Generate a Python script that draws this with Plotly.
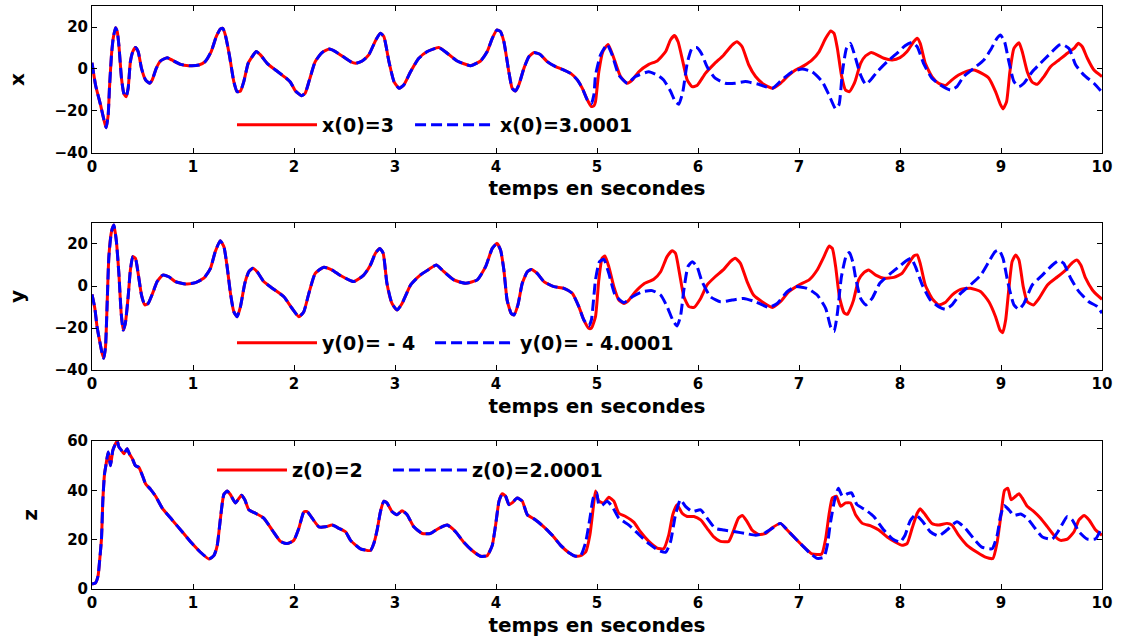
import plotly.graph_objects as go

# ---------------- data ----------------
# x(t): common part (both initial conditions coincide)
X_T_COMMON = [0, 0.035, 0.084, 0.117, 0.14, 0.16, 0.173, 0.193, 0.21, 0.233,
              0.25, 0.266, 0.292, 0.315, 0.338, 0.358, 0.38, 0.404, 0.43, 0.457,
              0.49, 0.53, 0.57, 0.596, 0.636, 0.678, 0.744, 0.79, 0.876, 0.958,
              1.058, 1.12, 1.18, 1.23, 1.27, 1.295, 1.32, 1.36, 1.404, 1.437,
              1.47, 1.503, 1.546, 1.586, 1.625, 1.668, 1.734, 1.817, 1.916, 1.965,
              2.015, 2.074, 2.11, 2.153, 2.21, 2.28, 2.35, 2.41, 2.46, 2.51,
              2.56, 2.61, 2.675, 2.74, 2.81, 2.856, 2.89, 2.94, 2.99, 3.04,
              3.087, 3.154, 3.236, 3.32, 3.434, 3.517, 3.616, 3.748, 3.847, 3.913,
              3.963, 4.01, 4.045, 4.078, 4.127, 4.16, 4.193, 4.226, 4.276, 4.326,
              4.375, 4.435, 4.507, 4.59, 4.673, 4.74, 4.805, 4.855, 4.905]
X_V_COMMON = [3, -7.6, -17, -24, -28, -22, -9, 6.7, 14.6, 19.7,
              17.8, 11.4, -4.4, -11.6, -13.2, -9.2, 3.5, 8.3, 10.2, 8.3,
              0.3, -5.2, -6.8, -5.2, 0.3, 3.8, 5.4, 4.3, 2.2, 1.6,
              1.9, 3.5, 8.3, 15.4, 19, 19.4, 16.2, 6.7, -6, -10.8,
              -10.5, -6, 2.7, 5.9, 8.3, 6.7, 2.7, -0.5, -4.1, -6.3,
              -10.5, -12.7, -11.6, -5.2, 3.5, 7.9, 9.5, 8.3, 6.7, 5.1,
              3.5, 2.7, 3.8, 6.7, 13.8, 17, 15.4, 3.5, -6, -9.2,
              -7.6, -1.3, 5.1, 8.3, 10.2, 7.5, 3.8, 1.6, 3.8, 8.3,
              14.6, 18.6, 17.8, 13, -1.3, -9.2, -10.5, -7.6, 0.3, 5.9,
              7.8, 7, 3.5, 1.1, -0.5, -2.1, -5.2, -9.2, -14.8]
X_T_RED = [4.944, 4.97, 4.985, 5.018, 5.058, 5.11, 5.167, 5.233, 5.3, 5.35,
           5.414, 5.513, 5.596, 5.68, 5.727, 5.767, 5.803, 5.85, 5.893, 5.94,
           5.99, 6.073, 6.156, 6.255, 6.337, 6.387, 6.437, 6.503, 6.57, 6.65,
           6.735, 6.817, 6.9, 6.966, 7.05, 7.13, 7.2, 7.264, 7.314, 7.347,
           7.38, 7.42, 7.46, 7.5, 7.54, 7.56, 7.61, 7.66, 7.715, 7.774,
           7.84, 7.923, 8.0, 8.07, 8.135, 8.17, 8.2, 8.25, 8.316, 8.382,
           8.448, 8.515, 8.58, 8.664, 8.73, 8.81, 8.88, 8.946, 8.995, 9.02,
           9.055, 9.088, 9.128, 9.178, 9.21, 9.26, 9.31, 9.36, 9.425, 9.49,
           9.574, 9.657, 9.723, 9.766, 9.805, 9.855, 9.92, 10.0]
X_V_RED = [-17.9, -17.5, -15.6, -1.3, 8.3, 11.7, 5.1, -3.6, -6.8, -5.2,
           -1.3, 2.2, 3.8, 8.3, 13.8, 15.9, 13, 3.5, -5.2, -8.4,
           -7.9, -2.1, 2.2, 6.7, 11.4, 13, 10.6, 1.9, -3.6, -7.3,
           -9.2, -6.8, -2.9, -0.5, 1.6, 4.3, 8.3, 14.6, 18.1, 17,
           9.8, -2.9, -10, -10.8, -7.6, -5.2, 2.7, 6.3, 7.8, 6.7,
           5.1, 4.3, 5.4, 8.3, 13, 14.6, 12.2, 2.7, -3.6, -6.8,
           -7.9, -5.2, -2.9, -1, -0.5, -2.1, -4.4, -10.8, -17, -19,
           -15.6, -1.3, 9.8, 12.5, 8.3, -1.3, -6.3, -7.3, -3.6, 1.1,
           4.3, 7.5, 9.8, 12.2, 10.6, 5.1, -0.5, -3.6]
X_T_BLUE = [4.944, 4.97, 4.985, 5.035, 5.1, 5.15, 5.216, 5.3, 5.38, 5.513,
            5.596, 5.66, 5.727, 5.776, 5.81, 5.85, 5.893, 5.94, 5.99, 6.033,
            6.09, 6.17, 6.27, 6.37, 6.47, 6.6, 6.735, 6.83, 6.933, 7.03,
            7.13, 7.23, 7.297, 7.363, 7.396, 7.43, 7.47, 7.51, 7.56, 7.61,
            7.66, 7.71, 7.774, 7.873, 7.972, 8.05, 8.12, 8.17, 8.233, 8.316,
            8.4, 8.5, 8.564, 8.63, 8.73, 8.83, 8.896, 8.96, 8.995, 9.035,
            9.078, 9.128, 9.178, 9.227, 9.31, 9.39, 9.49, 9.574, 9.607, 9.673,
            9.74, 9.822, 9.92, 10.0]
X_V_BLUE = [-16.5, -12, -3, 6.7, 11.7, 6.7, -2.9, -6.8, -3.6, -1.3,
            -2.9, -5.2, -10.5, -15.6, -16.8, -10.8, 2.7, 9.8, 10.2, 7.5,
            1.1, -4.4, -6.8, -6.8, -6, -7.3, -9.2, -5.2, -1.3, 0,
            -1.3, -6, -12.4, -19, -17, -1.3, 9.8, 12.2, 5.1, -2.9,
            -7.3, -5.2, -1.3, 3.5, 7.5, 11.1, 12.7, 10.6, 2.7, -4.4,
            -7.6, -10, -8.4, -3.6, 0.3, 4.3, 9, 14.6, 16.2, 13,
            3.5, -6, -8.4, -6.8, -1.3, 2.7, 7.5, 11.4, 11.7, 9.8,
            1.9, -2.9, -6.8, -11.1]

# y(t)
Y_T_COMMON = [0, 0.028, 0.05, 0.074, 0.1, 0.117, 0.134, 0.15, 0.167, 0.193,
              0.216, 0.24, 0.266, 0.289, 0.309, 0.33, 0.358, 0.38, 0.404, 0.43,
              0.457, 0.49, 0.523, 0.556, 0.6, 0.645, 0.7, 0.76, 0.826, 0.926,
              1.025, 1.107, 1.173, 1.22, 1.27, 1.306, 1.338, 1.371, 1.404, 1.437,
              1.47, 1.513, 1.553, 1.592, 1.635, 1.7, 1.786, 1.9, 1.98, 2.048,
              2.097, 2.147, 2.21, 2.296, 2.378, 2.46, 2.592, 2.69, 2.757, 2.806,
              2.85, 2.883, 2.92, 2.97, 3.02, 3.07, 3.155, 3.25, 3.334, 3.41,
              3.484, 3.583, 3.7, 3.814, 3.897, 3.963, 4.01, 4.045, 4.078, 4.11,
              4.15, 4.177, 4.217, 4.26, 4.31, 4.35, 4.408, 4.474, 4.573, 4.673,
              4.755, 4.82, 4.87]
Y_V_COMMON = [-4, -10.6, -19.4, -25.7, -32, -34.4, -28.9, -8.3, 14, 25.9,
              29, 21.9, 6, -13, -21, -17.8, -5.1, 7.6, 14, 13.2,
              6, -4.3, -9, -8.3, -3.5, 2.1, 5.2, 4.4, 2.1, 1,
              1.6, 3.7, 8.4, 16.3, 21.6, 18.7, 9.2, -3.5, -12.2, -14.6,
              -9.8, 1.3, 6.8, 8.4, 6.8, 2.1, -1.1, -5.1, -10.6, -14.6,
              -12.2, -3.5, 6, 8.9, 7.6, 5, 2.1, 5.2, 10, 15.6,
              17.9, 15.6, 1.3, -8.3, -11.4, -8.3, 0.5, 5.2, 7.9, 10,
              6.8, 2.9, 1.3, 2.9, 9.2, 17.9, 20.3, 17.1, 7.6, -6.7,
              -13, -13.8, -9, 1.3, 6.8, 7.9, 6, 2.1, -0.3, -1.1,
              -3.5, -9.8, -16.2]
Y_T_RED = [4.92, 4.945, 4.985, 5.018, 5.05, 5.078, 5.117, 5.167, 5.216, 5.266,
           5.316, 5.38, 5.463, 5.562, 5.63, 5.694, 5.744, 5.777, 5.817, 5.86,
           5.91, 5.96, 6.026, 6.09, 6.17, 6.255, 6.32, 6.37, 6.42, 6.486,
           6.55, 6.634, 6.735, 6.816, 6.9, 6.999, 7.1, 7.18, 7.247, 7.297,
           7.33, 7.363, 7.4, 7.446, 7.48, 7.51, 7.54, 7.59, 7.64, 7.69,
           7.76, 7.84, 7.94, 8.02, 8.087, 8.137, 8.17, 8.2, 8.25, 8.316,
           8.382, 8.448, 8.515, 8.6, 8.697, 8.8, 8.88, 8.946, 8.99, 9.017,
           9.046, 9.08, 9.11, 9.145, 9.178, 9.22, 9.26, 9.32, 9.376, 9.46,
           9.56, 9.64, 9.707, 9.75, 9.79, 9.838, 9.905, 9.97, 10.0]
Y_V_RED = [-20.2, -20, -14.6, 2.9, 13.2, 14.3, 9.2, -0.3, -6.7, -8.3,
           -6.7, -2.7, 1, 3.2, 6.8, 14, 16.8, 15.6, 6, -5.1,
           -9.8, -10.2, -5.9, 0.5, 4.4, 7.9, 11.6, 13.2, 10.8, 2.1,
           -4.3, -7.5, -10.2, -7.5, -2.7, 0.5, 2.9, 7.6, 14, 19,
           17.9, 9.2, -5.1, -12.7, -13.5, -10.6, -6.7, 2.9, 6.3, 7.6,
           5.2, 3.7, 4.1, 6, 10.8, 14.3, 14.8, 10.8, 0.5, -5.9,
           -9, -7.9, -4.3, -1.6, -1.1, -2.7, -7.5, -14.6, -21, -22.2,
           -16.2, -0.3, 11.6, 14.8, 12.4, -0.3, -7.5, -9, -5.9, 0.5,
           4.4, 7.6, 11.1, 12.4, 10, 3.7, -1.9, -5.1, -6.3]
Y_T_BLUE = [4.92, 4.945, 4.985, 5.025, 5.068, 5.117, 5.18, 5.266, 5.35, 5.45,
            5.546, 5.63, 5.694, 5.75, 5.793, 5.826, 5.86, 5.9, 5.943, 5.99,
            6.04, 6.123, 6.222, 6.337, 6.453, 6.57, 6.7, 6.784, 6.883, 6.966,
            7.08, 7.18, 7.264, 7.313, 7.347, 7.38, 7.42, 7.47, 7.5, 7.535,
            7.56, 7.61, 7.66, 7.724, 7.8, 7.907, 7.99, 8.05, 8.11, 8.153,
            8.22, 8.3, 8.382, 8.448, 8.515, 8.6, 8.697, 8.8, 8.88, 8.94,
            8.98, 9.02, 9.07, 9.128, 9.178, 9.227, 9.31, 9.41, 9.51, 9.574,
            9.62, 9.69, 9.772, 9.87, 9.953, 10.0]
Y_V_BLUE = [-19, -16, 2.9, 11.6, 12.7, 6, -4.3, -7.9, -5.1, -2.7,
            -2.2, -4.3, -9.8, -16.2, -19, -14.6, -1.9, 9.2, 11.6, 9.2,
            2.1, -5.1, -7.5, -6.7, -5.9, -7.5, -10.2, -8.3, -2.7, -0.3,
            -1.1, -4.3, -10.6, -19.4, -21.7, -13, 4.4, 14.8, 15.9, 11,
            4, -5.9, -9, -5.9, 1.3, 6, 9.2, 11.6, 13.2, 9.2,
            0.5, -6.7, -9.8, -11.1, -9, -3.5, 0.5, 5.2, 11.6, 16.3,
            17.1, 13.2, 1.3, -9, -11.1, -8.3, 0.5, 5.2, 10, 12.1,
            10.8, 3.7, -2.7, -7.5, -9.8, -13]

# z(t)
Z_T_COMMON = [0, 0.035, 0.06, 0.074, 0.094, 0.107, 0.124, 0.14, 0.16, 0.183,
              0.206, 0.233, 0.25, 0.266, 0.292, 0.315, 0.348, 0.37, 0.4, 0.43,
              0.464, 0.5, 0.53, 0.58, 0.63, 0.695, 0.794, 0.893, 0.992, 1.074,
              1.157, 1.206, 1.24, 1.272, 1.305, 1.338, 1.37, 1.42, 1.48, 1.513,
              1.553, 1.619, 1.7, 1.784, 1.866, 1.932, 1.998, 2.048, 2.097, 2.13,
              2.18, 2.246, 2.312, 2.378, 2.444, 2.51, 2.56, 2.658, 2.757, 2.79,
              2.823, 2.856, 2.89, 2.92, 2.97, 3.02, 3.07, 3.12, 3.186, 3.27,
              3.35, 3.434, 3.517, 3.6, 3.68, 3.764, 3.847, 3.913, 3.963, 3.996,
              4.03, 4.062, 4.095, 4.128, 4.16, 4.21, 4.26, 4.31, 4.392, 4.474,
              4.557, 4.64, 4.722, 4.788, 4.838]
Z_V_COMMON = [2, 2.5, 5.3, 10.8, 20.4, 35.6, 46.6, 50.7, 55.5, 50,
              56.2, 58.9, 60, 57.6, 56.2, 54.8, 56.9, 54.8, 52.8, 50,
              49.3, 45.9, 42.7, 40.4, 37.6, 32.8, 28, 23.2, 18.4, 14.9,
              12.2, 13.5, 17.7, 28.7, 38.3, 39.7, 38.3, 34.9, 38, 36.2,
              32.1, 30.7, 28.7, 23.9, 19.3, 18.4, 19.7, 24.6, 31.2, 31.4,
              28.7, 25.2, 25.2, 25.9, 24.6, 23.2, 19.7, 16.3, 15.6, 18.4,
              23.9, 31.4, 35.6, 34.9, 31.4, 30.1, 31.7, 30.1, 25.2, 22.5,
              22.5, 24.6, 25.9, 23.2, 19, 15.6, 13.3, 13.5, 17.7, 25.9,
              35.6, 38.6, 37.6, 34.2, 34.9, 36.9, 35.6, 30.1, 28, 25.2,
              21.8, 17.7, 14.7, 13.3, 13.5]
Z_T_RED = [4.888, 4.93, 4.963, 4.985, 5.018, 5.068, 5.117, 5.167, 5.216, 5.283,
           5.366, 5.43, 5.513, 5.596, 5.66, 5.71, 5.75, 5.793, 5.843, 5.893,
           5.96, 6.026, 6.09, 6.156, 6.222, 6.304, 6.354, 6.4, 6.44, 6.486,
           6.535, 6.6, 6.67, 6.735, 6.816, 6.883, 6.966, 7.05, 7.13, 7.224,
           7.264, 7.297, 7.33, 7.37, 7.413, 7.462, 7.51, 7.56, 7.627, 7.71,
           7.79, 7.873, 7.956, 8.02, 8.07, 8.12, 8.17, 8.2, 8.25, 8.316,
           8.382, 8.465, 8.515, 8.58, 8.664, 8.763, 8.846, 8.92, 8.962, 9.0,
           9.035, 9.068, 9.1, 9.145, 9.178, 9.21, 9.26, 9.326, 9.392, 9.46,
           9.524, 9.59, 9.657, 9.723, 9.772, 9.822, 9.872, 9.937, 10.0]
Z_V_RED = [15, 22, 33, 39.7, 35.6, 34.9, 37.2, 35.6, 30.7, 29.4,
           27, 23.2, 19.3, 16.6, 16.3, 21.8, 30.1, 34.2, 30.7, 29.4,
           29.4, 28, 24.6, 21.1, 19.3, 19.3, 23.9, 28.7, 29.8, 27.3,
           23.9, 22.1, 22.5, 24.8, 26.6, 23.9, 20.4, 17, 14.2, 14.2,
           20.4, 30.1, 36.9, 37.6, 33.5, 34.9, 34.9, 30.1, 26.6, 25.6,
           23.9, 21.1, 19, 17.7, 18.4, 24.6, 30.7, 32.5, 30.1, 26.6,
           25.9, 26.6, 25.9, 21.8, 17.7, 14.9, 12.9, 12.4, 19, 30.1,
           40, 40.8, 36.2, 37.6, 38.6, 36.9, 33.5, 31.4, 28.7, 25.2,
           21.8, 19.7, 20.2, 23.2, 28, 29.8, 28, 23.9, 21.8]
Z_T_BLUE = [4.888, 4.93, 4.963, 4.997, 5.018, 5.05, 5.1, 5.15, 5.216, 5.316,
            5.414, 5.513, 5.613, 5.68, 5.727, 5.777, 5.826, 5.876, 5.943, 6.026,
            6.09, 6.17, 6.255, 6.37, 6.47, 6.57, 6.65, 6.735, 6.816, 6.9,
            7.0, 7.1, 7.18, 7.247, 7.28, 7.313, 7.357, 7.39, 7.43, 7.48,
            7.52, 7.574, 7.657, 7.74, 7.84, 7.923, 8.0, 8.05, 8.1, 8.153,
            8.22, 8.3, 8.382, 8.465, 8.564, 8.647, 8.73, 8.81, 8.912, 8.962,
            8.995, 9.03, 9.078, 9.128, 9.194, 9.26, 9.326, 9.41, 9.507, 9.574,
            9.657, 9.706, 9.772, 9.855, 9.937, 10.0]
Z_V_BLUE = [19, 28.7, 36.9, 39, 34.2, 33.9, 35.6, 33.5, 28.7, 25.9,
            22.1, 18.4, 15.6, 14.9, 19, 30.1, 36.2, 33.5, 31.4, 32.1,
            28.7, 24.6, 23.9, 23.2, 22.5, 21.8, 22.5, 24.6, 26.6, 23.2,
            19, 14.9, 12.4, 12.9, 17.7, 27.3, 36.9, 40.8, 37.6, 38.6,
            39, 34.2, 32.1, 29.4, 23.9, 20.4, 19, 21.8, 27.6, 30.1,
            27.6, 23.2, 21.5, 23.9, 27.3, 24.6, 20.4, 17, 16.3, 21.8,
            29.4, 33.9, 32.1, 29.8, 30.4, 28.7, 25.2, 21.1, 20.2, 23.9,
            29.4, 28, 23.2, 20.2, 20.4, 25.2]

X_TICKS = list(range(0, 11))
LABELS = [("x(0)=3", "x(0)=3.0001"),
          ("y(0)= - 4", "y(0)= - 4.0001"),
          ("z(0)=2", "z(0)=2.0001")]
AXIS_NAMES = ["x", "y", "z"]
X_TITLE = "temps en secondes"

for a, b in [(X_T_COMMON, X_V_COMMON), (X_T_RED, X_V_RED), (X_T_BLUE, X_V_BLUE),
             (Y_T_COMMON, Y_V_COMMON), (Y_T_RED, Y_V_RED), (Y_T_BLUE, Y_V_BLUE),
             (Z_T_COMMON, Z_V_COMMON), (Z_T_RED, Z_V_RED), (Z_T_BLUE, Z_V_BLUE)]:
    assert len(a) == len(b), (len(a), len(b), a[0])

# ---------------- figure ----------------
FONT = "DejaVu Sans"
fig = go.Figure()

panels = [
    (X_T_COMMON, X_V_COMMON, X_T_RED, X_V_RED, X_T_BLUE, X_V_BLUE),
    (Y_T_COMMON, Y_V_COMMON, Y_T_RED, Y_V_RED, Y_T_BLUE, Y_V_BLUE),
    (Z_T_COMMON, Z_V_COMMON, Z_T_RED, Z_V_RED, Z_T_BLUE, Z_V_BLUE),
]


def legname(k):
    return "legend" if k == 1 else "legend%d" % k


for i, (tc, vc, tr, vr, tb, vb) in enumerate(panels):
    sfx = "" if i == 0 else str(i + 1)
    fig.add_trace(go.Scatter(
        x=tc + tr, y=vc + vr, mode="lines", name=LABELS[i][0],
        line=dict(color="#ff0000", width=3, shape="spline", smoothing=0.5),
        xaxis="x" + sfx, yaxis="y" + sfx, legend=legname(2 * i + 1)))
    fig.add_trace(go.Scatter(
        x=tc + tb, y=vc + vb, mode="lines", name=LABELS[i][1],
        line=dict(color="#0000ff", width=3, dash="11px,5px", shape="spline", smoothing=0.5),
        xaxis="x" + sfx, yaxis="y" + sfx, legend=legname(2 * i + 2)))

tickfont = dict(family=FONT, size=15, color="black", weight="bold")
titlefont = dict(family=FONT, size=20, color="black", weight="bold")
ylabfont = dict(family=FONT, size=20, color="black", weight="bold")
legfont = dict(family=FONT, size=19, color="black", weight="bold")

domains = [[0.7479, 1.0], [0.3756, 0.6278], [0.0, 0.2539]]
yranges = [[-40, 30], [-40, 30], [0, 60]]
ytickvals = [[-40, -20, 0, 20], [-40, -20, 0, 20], [0, 20, 40, 60]]

layout = dict(
    width=1125, height=639,
    margin=dict(l=92, r=23, t=6, b=50, autoexpand=False),
    paper_bgcolor="white", plot_bgcolor="white",
    showlegend=True,
)
common_axis = dict(showline=True, linecolor="black", linewidth=1, mirror="ticks",
                   ticks="inside", ticklen=5, tickcolor="black", showgrid=False,
                   zeroline=False, tickfont=tickfont, automargin=False)
for i in range(3):
    sfx = "" if i == 0 else str(i + 1)
    layout["xaxis" + sfx] = dict(
        common_axis, domain=[0, 1], range=[0, 10], tickvals=X_TICKS,
        anchor="y" + sfx,
        title=dict(text=X_TITLE, font=titlefont, standoff=6))
    layout["yaxis" + sfx] = dict(
        common_axis, domain=domains[i], range=yranges[i], tickvals=ytickvals[i],
        anchor="x" + sfx,
        title=dict(text=AXIS_NAMES[i], font=ylabfont, standoff=24))

# one legend box per entry, placed like the reference legends
leg_pos = [(0.1386, 0.796, 80), (0.3149, 0.796, 80),
           (0.1386, 0.422, 80), (0.3347, 0.422, 80),
           (0.1188, 0.204, 70), (0.2930, 0.204, 74)]
for k, (lx, ly, iw) in enumerate(leg_pos, start=1):
    layout[legname(k)] = dict(
        orientation="h", x=lx, y=ly, xanchor="left", yanchor="middle",
        bgcolor="rgba(0,0,0,0)", borderwidth=0, font=legfont, itemwidth=iw)

fig.update_layout(**layout)
fig.write_html("out.html", config={"displayModeBar": False},
               post_script="document.body.style.margin='0px';")
